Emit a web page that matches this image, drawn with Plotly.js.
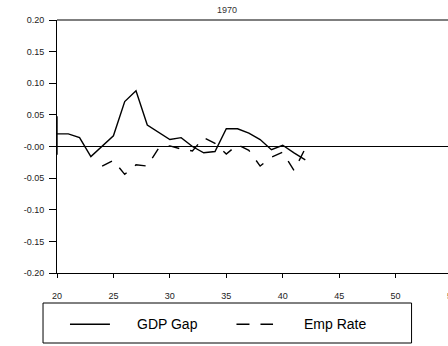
<!DOCTYPE html>
<html>
<head>
<meta charset="utf-8">
<script src="https://cdn.plot.ly/plotly-3.0.1.min.js"></script>
<style>
html,body{margin:0;padding:0;overflow:hidden;background:#fff;}
#chart{width:460px;height:346px;}
</style>
</head>
<body>
<div id="chart"></div>
<script>
// Data
const chartTitle = "1970";
const seriesNames = ["GDP Gap", "Emp Rate"];
const gdpX = [20, 20, 20, 21, 22, 23, 24, 25, 26, 27, 28, 29, 30, 31, 32, 33, 34, 35, 36, 37, 38, 39, 40, 41, 42];
const gdpY = [0.048, -0.013, 0.020, 0.020, 0.014, -0.016, 0.000, 0.017, 0.071, 0.088, 0.034, 0.022, 0.011, 0.014, 0.000, -0.010, -0.008, 0.028, 0.028, 0.021, 0.011, -0.005, 0.002, -0.010, -0.021];
const empX = [24, 25, 26, 27, 28, 29, 30, 31, 32, 33, 34, 35, 36, 37, 38, 39, 40, 41, 42];
const empY = [-0.031, -0.022, -0.044, -0.029, -0.031, -0.003, 0.001, -0.004, -0.007, 0.014, 0.005, -0.012, 0.003, -0.006, -0.031, -0.017, -0.009, -0.038, -0.003];
const yTickVals = [-0.20, -0.15, -0.10, -0.05, 0.00, 0.05, 0.10, 0.15, 0.20];
const yTickText = ["-0.20", "-0.15", "-0.10", "-0.05", "-0.00", "0.05", "0.10", "0.15", "0.20"];
const xTickVals = [20, 25, 30, 35, 40, 45, 50, 55];

const lineStyles = [
  {color: "#000", width: 1.4, dash: "solid"},
  {color: "#000", width: 1.4, dash: "11px,11px"}
];

const traces = [
  {x: gdpX, y: gdpY, name: seriesNames[0], mode: "lines", type: "scatter", line: lineStyles[0]},
  {x: empX, y: empY, name: seriesNames[1], mode: "lines", type: "scatter", line: lineStyles[1]}
];

// plot-area geometry helpers (paper coordinates from pixel positions)
const L = 57, R = 452.5, T = 20, B = 273;
const px = v => (v - L) / (R - L);
const py = v => (B - v) / (B - T);

// legend drawn as a framed box below the plot
const legY = 324.3;
const legendItems = [
  {lineX0: 70, lineX1: 110, textX: 135, dash: "solid"},
  {lineX0: 236.7, lineX1: 273.3, textX: 302.5, dash: "13px,11px"}
];

const shapes = [
  {type: "line", xref: "paper", yref: "paper", x0: 0, x1: 1, y0: 1, y1: 1,
   line: {color: "#555", width: 1.5}},
  {type: "rect", xref: "paper", yref: "paper",
   x0: px(43), x1: px(412), y0: py(303), y1: py(343),
   line: {color: "#000", width: 1}}
];
const annotations = [];
legendItems.forEach((it, i) => {
  shapes.push({type: "line", xref: "paper", yref: "paper",
    x0: px(it.lineX0), x1: px(it.lineX1), y0: py(legY), y1: py(legY),
    line: {color: "#000", width: 1.4, dash: it.dash}});
  annotations.push({text: seriesNames[i], xref: "paper", yref: "paper",
    x: px(it.textX), y: py(legY), xanchor: "left", yanchor: "middle",
    showarrow: false, font: {size: 14, color: "#000"}});
});

const layout = {
  width: 460, height: 346,
  margin: {l: L, r: 460 - R, t: T, b: 346 - B, autoexpand: false},
  paper_bgcolor: "#fff", plot_bgcolor: "#fff",
  font: {family: "Liberation Sans, Arial, sans-serif", size: 9, color: "#222"},
  title: {text: chartTitle, x: 227/460, xanchor: "center", xref: "container",
          y: 1 - 10/346, yanchor: "middle", yref: "container",
          font: {size: 9, color: "#333"}},
  showlegend: false,
  xaxis: {range: [20, 55], tickvals: xTickVals, ticks: "outside", ticklen: 4, tickwidth: 1,
          tickcolor: "#000", showline: true, linecolor: "#000", linewidth: 1,
          showgrid: false, zeroline: false, ticklabelstandoff: 10, fixedrange: true},
  yaxis: {range: [-0.2, 0.2], tickvals: yTickVals, ticktext: yTickText, ticks: "outside",
          ticklen: 7, tickwidth: 1, tickcolor: "#000", showline: true, linecolor: "#000",
          linewidth: 1, showgrid: false, zeroline: true, zerolinecolor: "#000", zerolinewidth: 1,
          ticklabelstandoff: 3, fixedrange: true},
  shapes: shapes,
  annotations: annotations
};

Plotly.newPlot("chart", traces, layout, {displayModeBar: false, staticPlot: true});
</script>
</body>
</html>
